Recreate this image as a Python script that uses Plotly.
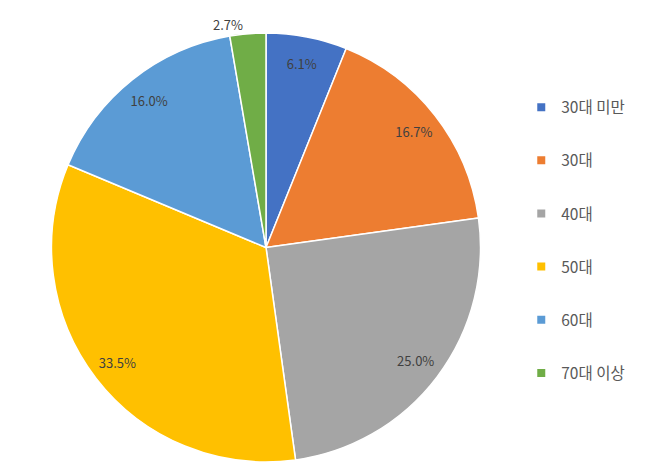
import plotly.graph_objects as go

labels = ['30대 미만', '30대', '40대', '50대', '60대', '70대 이상']
shares = [6.1, 16.7, 25.0, 33.5, 16.0, 2.7]
colors = ['#4472C4', '#ED7D31', '#A5A5A5', '#FFC000', '#5B9BD5', '#70AD47']

font_family = 'Noto Sans CJK KR'
pie_domain = dict(x=[51 / 670, 481 / 670], y=[1 - 462 / 468, 1 - 33 / 468])

fig = go.Figure()

# the filled pie, no text
fig.add_trace(go.Pie(
    labels=labels, values=shares, sort=False, direction='clockwise', rotation=0,
    marker=dict(colors=colors, line=dict(color='white', width=1.5)),
    textinfo='none', hoverinfo='label+value', showlegend=False,
    domain=pie_domain,
))

# transparent ring on top, only to put the labels near the outer edge
fig.add_trace(go.Pie(
    labels=labels, values=shares, sort=False, direction='clockwise', rotation=0,
    hole=0.75,
    marker=dict(colors=['rgba(0,0,0,0)'] * len(labels), line=dict(width=0)),
    text=[f'{v:.1f}%' for v in shares], textinfo='text',
    textposition=['inside'] * 5 + ['outside'],
    insidetextorientation='horizontal',
    textfont=dict(family=font_family, size=13, color='#404040'),
    hoverinfo='skip', showlegend=False,
    domain=pie_domain,
))

# legend entries
for lab, col in zip(labels, colors):
    fig.add_trace(go.Scatter(
        x=[None], y=[None], mode='markers', name=lab, legendgroup=lab,
        marker=dict(symbol='square', size=8, color=col),
    ))

fig.update_layout(
    width=670, height=468,
    margin=dict(l=0, r=0, t=0, b=0),
    paper_bgcolor='white', plot_bgcolor='white',
    xaxis=dict(visible=False), yaxis=dict(visible=False),
    showlegend=True,
    legend=dict(
        x=0.778, y=0.487, xanchor='left', yanchor='middle',
        font=dict(family=font_family, size=15.5, color='#595959'),
        itemwidth=30, tracegroupgap=30,
    ),
)

fig.write_html('out.html', config={'displayModeBar': False},
               post_script="document.body.style.margin='0';")
